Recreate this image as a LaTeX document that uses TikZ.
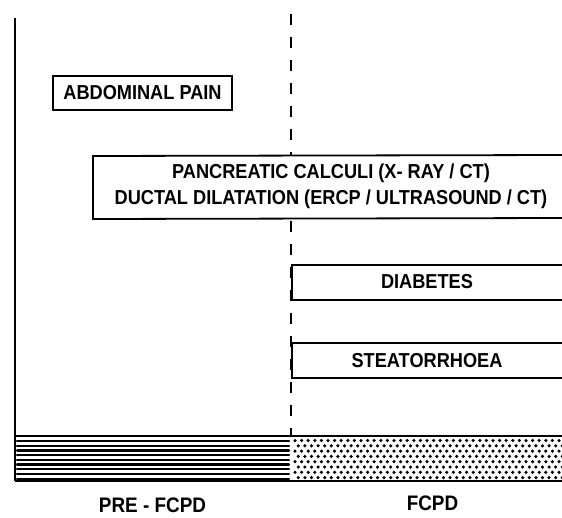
\documentclass[tikz,border=0pt]{standalone}
\usepackage{fontspec}
\newfontfamily\dfont{Liberation Sans}[FakeStretch=0.9]
\begin{document}
\begin{tikzpicture}[x=1pt,y=-1pt,
  boxline/.style={line width=1.8pt, fill=white},
  boxtext/.style={font=\dfont\bfseries\fontsize{20.2}{26}\selectfont, inner sep=0pt, align=center},
  labeltext/.style={font=\dfont\bfseries\fontsize{21}{26}\selectfont, inner sep=0pt},
  dashline/.style={line width=1.6pt, dash pattern=on 11pt off 12pt}]
\useasboundingbox (0,0) rectangle (562,517);
% axis and divider
\coordinate (axtop) at (15,18);
\coordinate (axbot) at (15,481);
\coordinate (dvtop) at (291,14);
\coordinate (dvbot) at (291,436);
\draw[line width=1.6pt] (axtop) -- (axbot);
\draw[dashline] (dvtop) -- (dvbot);
% abdominal pain
\draw[boxline] (53,76) rectangle (232,110);
\node[boxtext] (abd) at (142.5,93) {ABDOMINAL PAIN};
% pancreatic calculi box (open to the right)
\fill[white] (93,156) rectangle (562,219);
\draw[boxline] (562,155) -- (93,156) -- (93,219) -- (562,218);
\node[boxtext] (panc) at (331,186) {PANCREATIC CALCULI (X- RAY / CT)\\DUCTAL DILATATION (ERCP / ULTRASOUND / CT)};
% diabetes
\fill[white] (292,265) rectangle (562,300);
\draw[boxline] (562,265) -- (292,265) -- (292,300) -- (562,300);
\node[boxtext] (diab) at (427,282) {DIABETES};
% steatorrhoea
\fill[white] (292,343) rectangle (562,378);
\draw[boxline] (562,343) -- (292,343) -- (292,378) -- (562,378);
\node[boxtext] (stea) at (427,361) {STEATORRHOEA};
% bar: hatched part
\foreach \k in {0,...,8} {
  \draw[line width=2.2pt, line cap=round] (17,{441+\k*4.7}) -- (289,{441+\k*4.7});
}
% bar: dotted part
\foreach \i in {0,...,7} {
  \pgfmathsetmacro{\yy}{440.5+\i*5.3}
  \pgfmathsetmacro{\xo}{mod(\i,2)*3.3}
  \foreach \j in {0,...,40} {
    \fill ({295+\xo+\j*6.6},\yy) circle (1.75pt);
  }
}
\draw[line width=2.6pt] (15,436) -- (562,436);
\draw[line width=2.2pt] (15,481) -- (562,481);
% labels
\node[labeltext] (pre) at (152.5,505) {PRE - FCPD};
\node[labeltext] (fcpd) at (432.5,503) {FCPD};
\end{tikzpicture}
\end{document}
